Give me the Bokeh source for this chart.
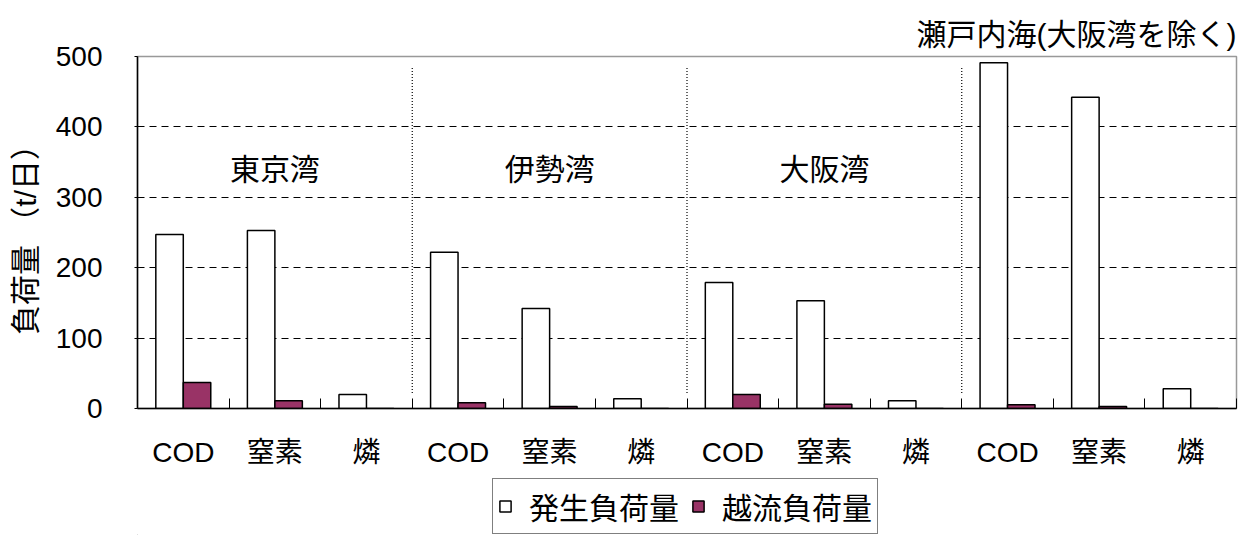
from bokeh.plotting import figure
from bokeh.layouts import column
from bokeh.models import Range1d, FixedTicker, Legend, LegendItem, Title, ColumnDataSource
from bokeh.transform import dodge
from bokeh.core.properties import value
from bokeh.embed import file_html
from bokeh.resources import INLINE

# ---- data ----
groups = ["東京湾", "伊勢湾", "大阪湾", "瀬戸内海(大阪湾を除く)"]
items = ["COD", "窒素", "燐"]
series_names = ["発生負荷量", "越流負荷量"]
generated = [247, 253, 20, 222, 142, 14, 179, 153, 11, 491, 442, 28]   # 発生負荷量
overflow = [37, 11, 0, 8, 3, 0, 20, 6, 0, 5.5, 3, 0]                   # 越流負荷量
y_ticks = [0, 100, 200, 300, 400, 500]

FONT = "Liberation Sans, Noto Sans CJK JP"
MAROON = "#993366"
W = 1240
H_MAIN = 473
H_LEG = 62
BL, BR = 137, 4

n_items = len(items)
n_cats = len(groups) * n_items
xs = list(range(n_cats))
tick_labels = [items[i % n_items] for i in xs]

src = ColumnDataSource(dict(x=xs, gen=generated, ovf=overflow, lab=tick_labels))

p = figure(width=W, height=H_MAIN,
           x_range=Range1d(-0.5, n_cats - 0.5), y_range=Range1d(0, 500),
           output_backend="svg", toolbar_location=None,
           min_border_left=BL, min_border_right=BR,
           min_border_top=56, min_border_bottom=H_MAIN - 408)

p.background_fill_color = "white"
p.border_fill_color = "white"
p.outline_line_color = "#999999"
p.outline_line_width = 1.5

# grid
p.xgrid.visible = False
p.ygrid.ticker = FixedTicker(ticks=y_ticks[1:-1])
p.ygrid.grid_line_color = "black"
p.ygrid.grid_line_dash = "7 5"
p.ygrid.grid_line_width = 1

# group separators (dotted)
seps = [k * n_items - 0.5 for k in range(1, len(groups))]
p.segment(x0=seps, x1=seps, y0=[22] * len(seps), y1=[484] * len(seps),
          line_color="black", line_dash="1 2", line_width=1.2)

# bars
bar_style = dict(width=0.3, line_color="black", line_width=1.5)
p.vbar(x=dodge("x", -0.15, range=p.x_range), top="gen", source=src,
       fill_color="white", **bar_style)
p.vbar(x=dodge("x", 0.15, range=p.x_range), top="ovf", source=src,
       fill_color=MAROON, **bar_style)

# group labels (first three inside the plot, the last one as title)
gx = [k * n_items + 1 for k in range(len(groups) - 1)]
p.text(x=gx, y=[339] * len(gx), text=groups[:-1],
       text_font=value(FONT), text_font_size="30px", text_color="black",
       text_align="center", text_baseline="middle")

p.title = Title(text=groups[-1], align="right", text_font=FONT,
                text_font_size="30px", text_font_style="normal",
                text_color="black", standoff=11)

# x axis
xa = p.xaxis[0]
xa.ticker = FixedTicker(ticks=xs, minor_ticks=[i + 0.5 for i in xs])
xa.major_label_overrides = {i: tick_labels[i] for i in xs}
xa.major_tick_in = 0
xa.major_tick_out = 0
xa.minor_tick_in = 10
xa.minor_tick_out = 0
xa.minor_tick_line_color = "black"
xa.minor_tick_line_width = 1
xa.axis_line_color = "black"
xa.axis_line_width = 1.5
xa.major_label_text_font = FONT
xa.major_label_text_font_size = "28px"
xa.major_label_text_color = "black"
xa.major_label_standoff = 28

# y axis
ya = p.yaxis[0]
ya.ticker = FixedTicker(ticks=y_ticks)
ya.major_tick_in = 0
ya.major_tick_out = 3
ya.major_tick_line_color = "black"
ya.minor_tick_line_color = None
ya.axis_line_color = "black"
ya.axis_line_width = 1.5
ya.major_label_text_font = FONT
ya.major_label_text_font_size = "28px"
ya.major_label_text_color = "black"
ya.major_label_standoff = 32
ya.axis_label = "負荷量 （t/日）"
ya.axis_label_text_font = FONT
ya.axis_label_text_font_size = "30px"
ya.axis_label_text_font_style = "normal"
ya.axis_label_text_color = "black"
ya.axis_label_standoff = 11

# ---- legend strip below the chart ----
q = figure(width=W, height=H_LEG, x_range=Range1d(0, 1), y_range=Range1d(0, 1),
           output_backend="svg", toolbar_location=None,
           min_border_left=BL, min_border_right=BR, min_border_top=0, min_border_bottom=0)
q.axis.visible = False
q.grid.visible = False
q.outline_line_color = None
q.background_fill_color = "white"
q.border_fill_color = "white"

g1 = q.vbar(x=[-5], top=[0], bottom=[-1], fill_color="white", **bar_style)
g2 = q.vbar(x=[-5], top=[0], bottom=[-1], fill_color=MAROON, **bar_style)

legend = Legend(items=[LegendItem(label=series_names[0], renderers=[g1]),
                       LegendItem(label=series_names[1], renderers=[g2])],
                orientation="horizontal", location=(492 - BL, 1),
                label_text_font=FONT, label_text_font_size="30px",
                label_text_color="black",
                glyph_width=14, glyph_height=14, label_standoff=17, spacing=12,
                padding=5, margin=0,
                border_line_color="black", border_line_width=1,
                background_fill_color="white", background_fill_alpha=1)
q.add_layout(legend, "center")

layout = column(p, q, spacing=0)
open("out.html", "w").write(file_html(layout, INLINE))
